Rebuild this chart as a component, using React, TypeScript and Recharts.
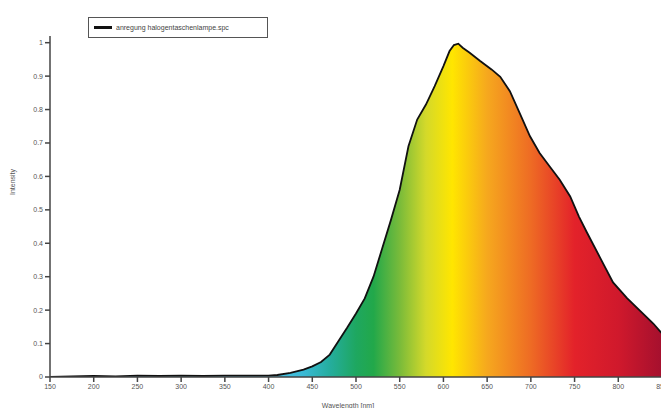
import React from "react";
import { AreaChart, Area, XAxis, YAxis, Legend, Label } from "recharts";

const wavelengths = [150,175,200,225,250,275,300,325,350,375,400,410,425,440,450,460,470,480,490,500,510,520,530,540,550,560,570,580,590,600,607,612,617,622,630,642,655,665,676,688,699,710,722,733,745,755,764,779,794,810,825,840,850];
const intensity = [0,0.002,0.003,0.002,0.004,0.003,0.004,0.003,0.004,0.004,0.004,0.006,0.012,0.022,0.032,0.045,0.067,0.108,0.148,0.19,0.235,0.3,0.385,0.47,0.56,0.69,0.77,0.815,0.87,0.93,0.975,0.993,0.997,0.985,0.97,0.945,0.92,0.898,0.855,0.785,0.72,0.67,0.628,0.59,0.54,0.48,0.433,0.358,0.283,0.236,0.198,0.16,0.13];
const xTicks = [150,200,250,300,350,400,450,500,550,600,650,700,750,800,850];
const yTicks = [0,0.1,0.2,0.3,0.4,0.5,0.6,0.7,0.8,0.9,1];
const seriesName = "anregung halogentaschenlampe.spc";
const xTitle = "Wavelength [nm]";
const yTitle = "Intensity";

const gradientStops: [number, string][] = [
  [400, "#4cc4e6"],
  [440, "#3ab9d5"],
  [470, "#25ad9e"],
  [500, "#1ea760"],
  [520, "#22a84a"],
  [550, "#79bb3a"],
  [580, "#d4d92a"],
  [610, "#ffe600"],
  [650, "#f6a81e"],
  [700, "#ee6b24"],
  [750, "#e3222a"],
  [800, "#d0192c"],
  [850, "#a5102e"],
];

const data = wavelengths.map((w, i) => ({ w, v: intensity[i] }));

const FONT = "Liberation Sans, Arial, sans-serif";
const tickStyle = { fontSize: 7, fill: "#555", fontFamily: FONT };

const LegendBox = () => (
  <div
    style={{
      border: "1px solid #555",
      background: "#fff",
      width: 180,
      height: 21,
      display: "flex",
      alignItems: "center",
      boxSizing: "border-box",
      paddingLeft: 5,
      fontFamily: FONT,
      fontSize: 7,
      color: "#444",
    }}
  >
    <div style={{ width: 18, height: 3, background: "#111", marginRight: 4 }} />
    <span>{seriesName}</span>
  </div>
);

const YTitle = () => (
  <text x={12} y={182} transform="rotate(-90 12 182)" textAnchor="middle" dominantBaseline="central" style={tickStyle}>
    {yTitle}
  </text>
);

export default function App() {
  return (
    <div style={{ margin: -8, width: 669, height: 416, background: "#fff" }}>
      <AreaChart width={669} height={416} data={data} margin={{ top: 15, right: 7, bottom: 0, left: 0 }}>
        <defs>
          <linearGradient id="spec" x1="0" y1="0" x2="1" y2="0">
            {gradientStops.map(([w, c]) => (
              <stop key={w} offset={(w - 150) / 700} stopColor={c} />
            ))}
          </linearGradient>
        </defs>
        <XAxis
          dataKey="w"
          type="number"
          domain={[150, 850]}
          ticks={xTicks}
          interval={0}
          height={39}
          tick={tickStyle}
          tickSize={5}
          stroke="#444"
          strokeWidth={1.5}
        >
          <Label value={xTitle} position="insideBottom" offset={8} dx={-8} style={tickStyle} />
        </XAxis>
        <YAxis
          type="number"
          domain={[0, 1.02]}
          ticks={yTicks}
          interval={0}
          width={50}
          tick={tickStyle}
          tickSize={5}
          stroke="#444"
          strokeWidth={1.5}
          allowDataOverflow
        >
          <Label content={() => <YTitle />} />
        </YAxis>
        <Legend
          verticalAlign="top"
          align="left"
          wrapperStyle={{ top: 17, left: 88, width: 180 }}
          content={() => <LegendBox />}
        />
        <Area
          type="linear"
          dataKey="v"
          stroke="#111"
          strokeWidth={1.8}
          fill="url(#spec)"
          fillOpacity={1}
          isAnimationActive={false}
          dot={false}
        />
      </AreaChart>
    </div>
  );
}
